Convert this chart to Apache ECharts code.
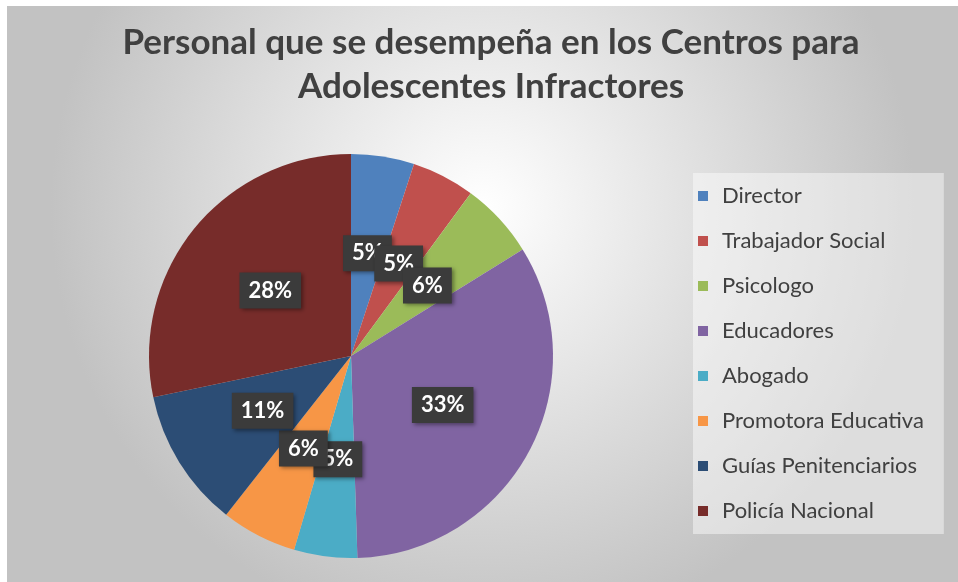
<!DOCTYPE html>
<html>
<head>
<meta charset="utf-8">
<script src="https://cdn.jsdelivr.net/npm/echarts@6/dist/echarts.min.js"></script>
<style>
  html, body { margin: 0; padding: 0; background: #fff; }
  #main { width: 958px; height: 582px; }
</style>
</head>
<body>
<div id="main"></div>
<script>
var categories = ['Director', 'Trabajador Social', 'Psicologo', 'Educadores', 'Abogado', 'Promotora Educativa', 'Guías Penitenciarios', 'Policía Nacional'];
var values = [5, 5, 6, 33, 5, 6, 11, 28];
var colors = ['#4f81bd', '#c0504d', '#9bbb59', '#8064a2', '#4bacc6', '#f79646', '#2c4d75', '#772c2a'];

var myChart = echarts.init(document.getElementById('main'));

var option = {
    backgroundColor: '#fff',
    color: colors,
    graphic: [{
        type: 'rect',
        z: -10,
        shape: { x: 7, y: 6, width: 951, height: 576 },
        style: {
            fill: new echarts.graphic.RadialGradient(0.5, 0.35, 0.75, [
                { offset: 0, color: '#ffffff' },
                { offset: 1, color: '#c2c2c2' }
            ])
        }
    }],
    title: {
        text: 'Personal que se desempeña en los Centros para\nAdolescentes Infractores',
        left: 486,
        top: 16,
        textAlign: 'center',
        textStyle: {
            fontFamily: 'Lato',
            fontWeight: 'bold',
            fontSize: 35,
            lineHeight: 44,
            color: '#404040'
        }
    },
    legend: {
        orient: 'vertical',
        left: 693,
        top: 173,
        padding: [12, 20, 12, 5],
        backgroundColor: 'rgba(255,255,255,0.45)',
        itemWidth: 10,
        itemHeight: 10,
        itemGap: 23,
        icon: 'rect',
        data: categories,
        textStyle: {
            fontFamily: 'Lato',
            fontSize: 22,
            lineHeight: 22,
            color: '#404040',
            padding: [0, 0, 0, 9]
        }
    },
    series: [
        {
            name: 'Personal',
            type: 'pie',
            center: [351, 356],
            radius: 202,
            startAngle: 90,
            clockwise: true,
            avoidLabelOverlap: false,
            labelLayout: { hideOverlap: false },
            label: {
                show: true,
                position: 'inside',
                formatter: function (p) { return Math.round(p.percent) + '%'; },
                fontFamily: 'Lato',
                fontWeight: 'bold',
                fontSize: 22,
                color: '#fff',
                backgroundColor: '#3b3b3b',
                padding: [8, 9, 6, 9],
                shadowColor: 'rgba(0,0,0,0.4)',
                shadowBlur: 4,
                shadowOffsetX: 2,
                shadowOffsetY: 2
            },
            labelLine: { show: false },
            itemStyle: { borderWidth: 0 },
            emphasis: { disabled: true },
            data: categories.map(function (c, i) {
                return { name: c, value: values[i] };
            })
        }
    ]
};

myChart.setOption(option);
</script>
</body>
</html>
